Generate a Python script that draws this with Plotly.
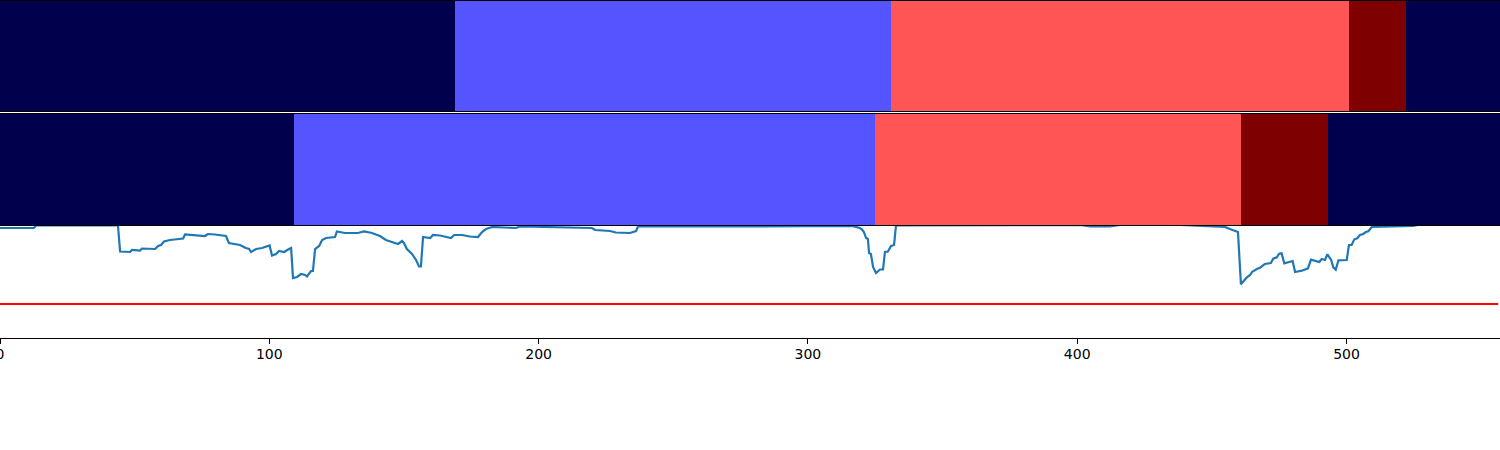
import plotly.graph_objects as go

X_MAX = 557
STATE_COLORS = ["#00004c", "#5555ff", "#ff5555", "#7f0000"]

row1_edges = [0, 169, 331, 501, 522, 557]
row1_states = [0, 1, 2, 3, 0]
row2_edges = [0, 109, 325, 461, 493, 557]
row2_states = [0, 1, 2, 3, 0]

line_x = [0, 11.1, 12.6, 13.4, 43.8, 44.6, 48.3, 49, 52, 52.7, 57.6, 58.7, 59.8, 60.9, 63.1, 68, 68.7,
          76.1, 77.2, 79.8, 83.9, 85, 89.1, 91.3, 92.5, 93.2, 95.1, 97.3, 99.5, 100.1, 101, 102.5, 103.6,
          105.5, 107.3, 108.1, 108.8, 110.3, 111.8, 113.3, 114, 115.5, 116.2, 117, 118.5, 119.6, 121.1,
          124.4, 125.1, 128.1, 132.9, 135.2, 138.1, 141.1, 143.3, 145.6, 147.8, 149.3, 150, 151.1, 153,
          154.5, 155.6, 156.3, 157.1, 159.7, 160.8, 163.4, 166, 167.5, 168.6, 171.6, 174.5, 177.5, 179,
          180.5, 182.7, 185.7, 191.6, 193.1, 208, 219.8, 221, 226.5, 228.7, 233.9, 236.2, 236.9, 259.9,
          278.5, 315.6, 316.4, 319.3, 320.1, 320.8, 321.6, 322.3, 322.7, 323.4, 324.2, 325.3, 326, 326.8,
          327.9, 328.6, 329.7, 330.9, 332, 332.7, 401, 404.8, 412.2, 415.9, 438.2, 445.6, 451.5, 454.9,
          456.7, 459.7, 460.8, 463, 464.2, 465, 466.9, 467.9, 469.7, 471, 471.9, 472.8, 474.1, 475, 475.9,
          476.9, 480, 480.9, 483.4, 485.7, 486.8, 489.9, 490.8, 492, 492.9, 494.3, 495.1, 496, 497, 500.1,
          500.9, 501.9, 502.9, 504, 505, 506.2, 507.2, 508.1, 509.4, 524.7, 526.5, 557]
line_y = [110, 109.5, 110, 112.5, 112.5, 86.5, 86, 88, 87.5, 89.5, 89, 92, 93, 96.5, 98, 99.5, 103.5,
          102, 104, 103.5, 102, 95, 93, 90, 89, 86, 89, 90, 92, 92.5, 82.5, 84, 87,
          86, 89, 90, 60, 61, 64, 63, 61.5, 67, 67, 89, 92, 98, 100,
          101, 106.5, 105, 105, 106.5, 105, 102, 98, 96, 94, 97, 95, 89, 84,
          78, 71.5, 71.5, 101, 100, 103, 102.5, 101, 100, 103, 103, 101.5, 101, 106,
          109, 111, 110.5, 110, 111.5, 110.5, 110, 108, 107, 105.5, 105, 107, 111.5, 111.5,
          111.5, 112, 112, 110, 108.5, 106, 100, 99, 85, 84, 71, 65, 67, 68.5,
          68.5, 86, 86.5, 92, 93, 112.5, 113, 111.7, 111.7, 113, 113, 112.3, 112, 111,
          109, 106, 53.7, 60.7, 63, 66.3, 69.3, 70.3, 74, 75, 75, 79.3, 80.7, 84.3, 84.7,
          74.7, 77, 66, 67.3, 69.7, 78.3, 76, 79, 78, 83.7, 78, 70.7, 68.3, 77.7, 78,
          93, 93, 98.7, 99.7, 103, 104, 106, 106.7, 111, 112, 113, 113]
threshold_x = [0, 556.3]
threshold_y = [34, 34]
x_ticks = [0, 100, 200, 300, 400, 500]

colorscale = []
n = len(STATE_COLORS)
for i, c in enumerate(STATE_COLORS):
    colorscale += [[i / n, c], [(i + 1) / n, c]]

fig = go.Figure()
for k, (edges, states) in enumerate([(row1_edges, row1_states), (row2_edges, row2_states)], start=1):
    fig.add_trace(go.Heatmap(z=[states], x=edges, y=[0, 1], zmin=-0.5, zmax=3.5, colorscale=colorscale,
                             showscale=False, xaxis=f"x{k}", yaxis=f"y{k}", hoverinfo="skip"))
fig.add_trace(go.Scatter(x=line_x, y=line_y, mode="lines", line=dict(color="#1f77b4", width=2.2),
                         xaxis="x3", yaxis="y3", showlegend=False))
fig.add_trace(go.Scatter(x=threshold_x, y=threshold_y, mode="lines", line=dict(color="#ff0000", width=2.2),
                         xaxis="x3", yaxis="y3", showlegend=False))

H = 450.0
def dom(top, bottom):
    return [1 - bottom / H, 1 - top / H]

spine = dict(showline=True, linecolor="black", linewidth=1, mirror=True, showgrid=False, zeroline=False, automargin=False)
plain = dict(showline=False, showgrid=False, zeroline=False, automargin=False)
hidden = dict(showticklabels=False, ticks="")
layout = dict(
    width=1500, height=450, margin=dict(l=0, r=0, t=0, b=0), showlegend=False,
    paper_bgcolor="white", plot_bgcolor="white",
    font=dict(family="DejaVu Sans", size=14, color="black"),
    xaxis=dict(domain=[0, 1], range=[0, X_MAX], anchor="y", **spine, **hidden),
    yaxis=dict(domain=dom(1, 111), range=[0, 1], anchor="x", **plain, **hidden),
    xaxis2=dict(domain=[0, 1], range=[0, X_MAX], anchor="y2", **spine, **hidden),
    yaxis2=dict(domain=dom(114, 225), range=[0, 1], anchor="x2", **plain, **hidden),
    xaxis3=dict(domain=[0, 1], range=[0, X_MAX], anchor="y3", tickmode="array", tickvals=x_ticks,
                ticktext=[str(t) for t in x_ticks], ticks="outside", ticklen=5, tickwidth=1, tickcolor="black",
                ticklabeloverflow="allow", ticklabelstandoff=-2, **spine),
    yaxis3=dict(domain=dom(226, 338), range=[0, 112], anchor="x3", **spine, **hidden),
)
fig.update_layout(**layout)
fig.write_html("out.html", config=dict(displayModeBar=False),
               post_script="document.body.style.margin='0';document.body.style.overflow='hidden';")
